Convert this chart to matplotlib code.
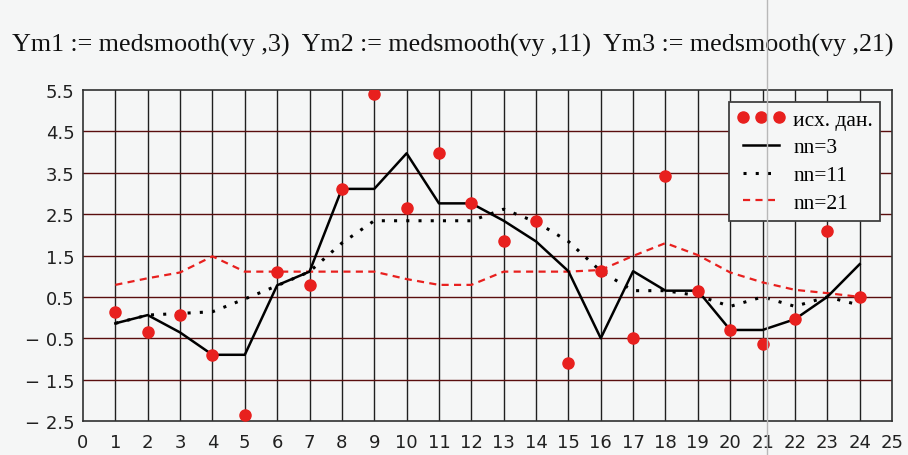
import numpy as np
import matplotlib.pyplot as plt
from matplotlib.lines import Line2D

# исходные данные и сглаженные ряды
x = np.arange(1, 25)
vy = [0.14, -0.36, 0.07, -0.9, -2.35, 1.11, 0.78, 3.11, 5.4, 2.64, 3.97, 2.76,
      1.84, 2.34, -1.1, 1.12, -0.5, 3.41, 0.65, -0.3, -0.64, -0.04, 2.1, 0.5]
ym1 = [-0.14, 0.06, -0.36, -0.9, -0.9, 0.78, 1.11, 3.11, 3.11, 3.97, 2.76, 2.76,
       2.34, 1.84, 1.12, -0.5, 1.12, 0.65, 0.65, -0.3, -0.3, -0.04, 0.5, 1.29]
ym2 = [-0.14, 0.06, 0.1, 0.14, 0.45, 0.77, 1.11, 1.8, 2.34, 2.34, 2.34, 2.34,
       2.62, 2.31, 1.84, 1.12, 0.65, 0.65, 0.53, 0.27, 0.5, 0.27, 0.5, 0.3]
ym3 = [0.79, 0.95, 1.09, 1.48, 1.11, 1.11, 1.11, 1.11, 1.11, 0.93, 0.79, 0.79,
       1.11, 1.11, 1.11, 1.15, 1.49, 1.8, 1.51, 1.09, 0.85, 0.67, 0.59, 0.5]

xticks = np.arange(0, 26)
yticks = np.arange(-2.5, 5.6, 1.0)
ytick_labels = [("\u2212 %.1f" % abs(v)) if v < 0 else "%.1f" % v for v in yticks]

bg = '#f5f6f6'
red = '#e8201e'

fig = plt.figure(figsize=(9.08, 4.56), dpi=100, facecolor=bg)
ax = fig.add_axes([0.0914, 0.0746, 0.891, 0.7258], facecolor=bg)

# сетка: вертикальные черные, горизонтальные бордовые
for xv in xticks[1:-1]:
    ax.axvline(xv, color='#202020', lw=1.0, zorder=1)
for yv in yticks[1:-1]:
    ax.axhline(yv, color='#5a0e0e', lw=1.0, zorder=1)

ax.plot(x, vy, 'o', color=red, markersize=8, label='исх. дан.', zorder=5)
ax.plot(x, ym1, '-', color='black', lw=1.8, label='nn=3', zorder=4)
ax.plot(x, ym2, color='black', lw=2.2, dashes=(1, 3), label='nn=11', zorder=4)
ax.plot(x, ym3, color=red, lw=1.6, dashes=(3.2, 2.4), label='nn=21', zorder=3)

ax.set_xlim(0, 25)
ax.set_ylim(-2.5, 5.5)
ax.set_xticks(xticks)
ax.set_yticks(yticks)
ax.set_yticklabels(ytick_labels)
ax.tick_params(length=0, labelsize=13, pad=6)
ax.tick_params(axis='x', pad=9)
for lab in ax.get_xticklabels() + ax.get_yticklabels():
    lab.set_fontfamily(['Liberation Sans Narrow', 'DejaVu Sans'])
    lab.set_color('#202020')
for sp in ax.spines.values():
    sp.set_color('#303030')
    sp.set_linewidth(1.2)

leg = ax.legend(loc='upper left', bbox_to_anchor=(0.798, 0.964), borderaxespad=0,
                numpoints=3, handlelength=2.3, handletextpad=0.35, labelspacing=0.36,
                fancybox=False, framealpha=1, facecolor=bg, edgecolor='#404040',
                prop={'family': 'Liberation Serif', 'size': 15.5}, borderpad=0.35)
leg.get_frame().set_linewidth(1.3)

fig.text(0.013, 0.9, 'Ym1 := medsmooth(vy ,3)  Ym2 := medsmooth(vy ,11)  Ym3 := medsmooth(vy ,21)',
         family='Liberation Serif', size=18.7, ha='left', va='center', color='#111111')

# серая вертикальная линия поверх всего (артефакт скриншота)
fig.add_artist(Line2D([0.8447, 0.8447], [0, 1], transform=fig.transFigure,
                      color='#b8b8b8', lw=1.0, zorder=10))

fig.savefig('out.png', dpi=100, facecolor=bg)
